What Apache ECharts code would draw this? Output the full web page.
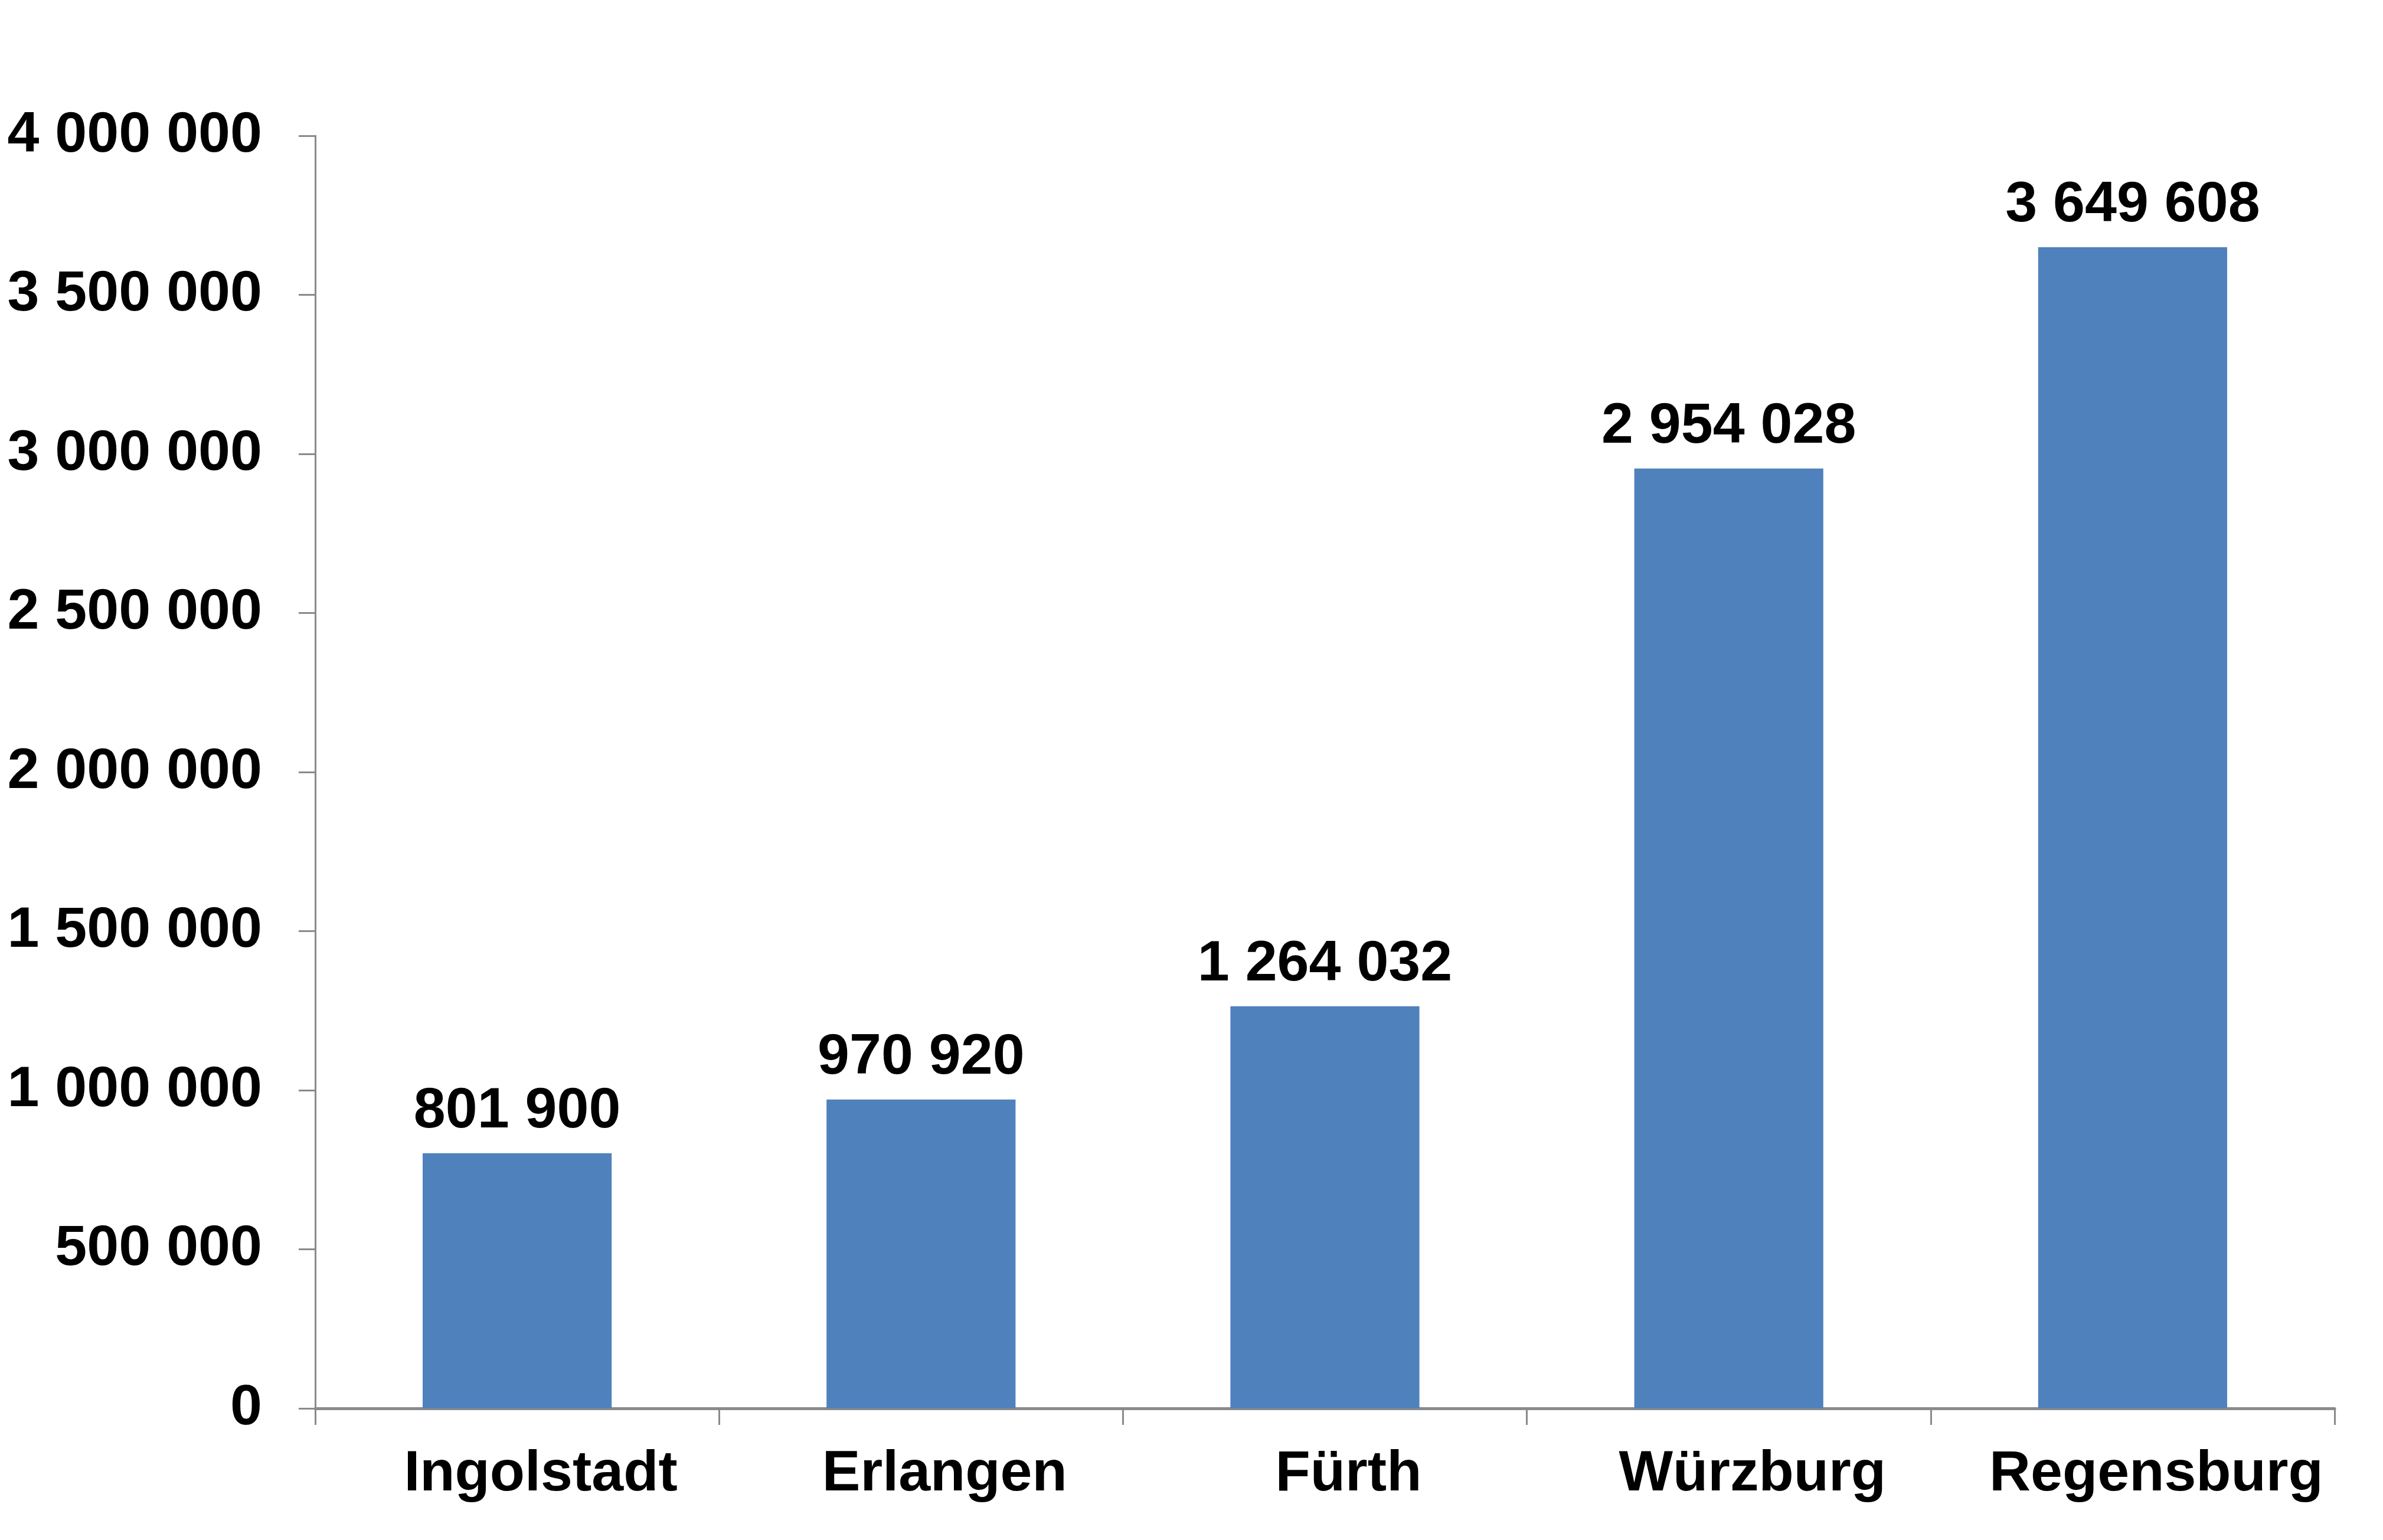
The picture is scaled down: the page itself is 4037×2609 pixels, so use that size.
<!DOCTYPE html>
<html lang="de">
<head>
  <meta charset="UTF-8">
  <title>Städte</title>
  <script src="https://cdn.jsdelivr.net/npm/echarts@6/dist/echarts.min.js"></script>
  <style>
    html, body { margin: 0; padding: 0; background: #fff; }
    #chart { width: 4037px; height: 2609px; }
  </style>
</head>
<body>
<div id="chart"></div>
<script>
  // data
  const cities = ['Ingolstadt', 'Erlangen', 'Fürth', 'Würzburg', 'Regensburg'];
  const values = [801900, 970920, 1264032, 2954028, 3649608];
  const yMin = 0, yMax = 4000000, yStep = 500000;

  function spaced(v) {
    return String(v).replace(/\B(?=(\d{3})+(?!\d))/g, ' ');
  }

  const font = { fontFamily: 'Liberation Sans, Arial, sans-serif', fontWeight: 'bold', fontSize: 97, color: '#000' };

  const chart = echarts.init(document.getElementById('chart'));
  chart.setOption({
    animation: false,
    grid: { left: 534, right: 82, top: 230, bottom: 223, containLabel: false },
    xAxis: {
      type: 'category',
      data: cities,
      boundaryGap: true,
      axisLine: { lineStyle: { color: '#8a8a8a', width: 5 } },
      axisTick: { show: true, interval: 0, length: 28, lineStyle: { color: '#8a8a8a', width: 3 } },
      axisLabel: Object.assign({ interval: 0, margin: 64, padding: [0, 0, 0, 80] }, font),
      splitLine: { show: false }
    },
    yAxis: {
      type: 'value',
      min: yMin,
      max: yMax,
      interval: yStep,
      axisLine: { show: true, lineStyle: { color: '#8a8a8a', width: 3 } },
      axisTick: { show: true, length: 28, lineStyle: { color: '#8a8a8a', width: 3 } },
      axisLabel: Object.assign({ margin: 90, formatter: spaced }, font),
      splitLine: { show: false }
    },
    series: [{
      type: 'bar',
      data: values,
      barWidth: '46.8%',
      itemStyle: { color: '#4F81BD' },
      label: Object.assign({
        show: true,
        position: 'top',
        distance: 22,
        formatter: p => spaced(p.value)
      }, font)
    }]
  });
</script>
</body>
</html>
